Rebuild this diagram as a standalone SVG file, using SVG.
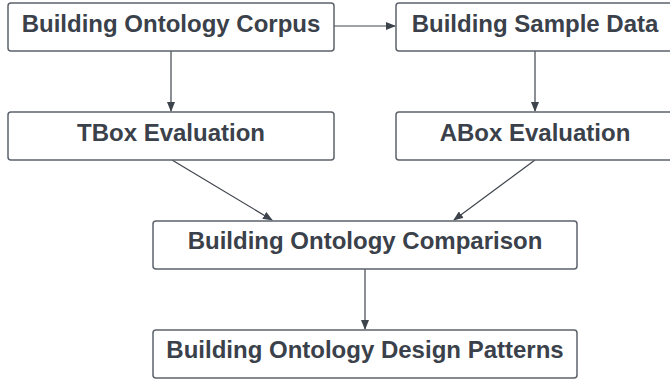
<svg xmlns="http://www.w3.org/2000/svg" width="670" height="380" viewBox="0 0 670 380">
<defs>
<marker id="ah" markerWidth="10" markerHeight="8" refX="9" refY="4" orient="auto" markerUnits="userSpaceOnUse">
<path d="M0,0 L10,4 L0,8 Z" fill="#3e444c"/>
</marker>
<style>
.box{fill:#ffffff;stroke:#5c626b;stroke-width:1.5}
.lbl{font-family:"Liberation Sans",Arial,sans-serif;font-weight:bold;font-size:24px;fill:#3a414a;text-anchor:middle}
.edge{fill:none;stroke:#3e444c;stroke-width:1.2}
</style>
</defs>
<rect width="670" height="380" fill="#ffffff"/>
<g id="connectors">
<line class="edge" x1="334" y1="26" x2="395" y2="26" marker-end="url(#ah)"/>
<line class="edge" x1="171" y1="51" x2="171" y2="111" marker-end="url(#ah)"/>
<line class="edge" x1="535" y1="51" x2="535" y2="111" marker-end="url(#ah)"/>
<line class="edge" x1="172" y1="160" x2="272" y2="220" marker-end="url(#ah)"/>
<line class="edge" x1="535" y1="160" x2="454" y2="220" marker-end="url(#ah)"/>
<line class="edge" x1="365" y1="269" x2="365" y2="329" marker-end="url(#ah)"/>
</g>
<g id="corpus">
<rect class="box" x="8" y="3" width="326" height="48" rx="3"/>
<text class="lbl" x="171" y="32">Building Ontology Corpus</text>
</g>
<g id="sample">
<rect class="box" x="396" y="3" width="278" height="48" rx="3"/>
<text class="lbl" x="535" y="32">Building Sample Data</text>
</g>
<g id="tbox">
<rect class="box" x="8" y="112" width="326" height="48" rx="3"/>
<text class="lbl" x="171" y="141">TBox Evaluation</text>
</g>
<g id="abox">
<rect class="box" x="396" y="112" width="278" height="48" rx="3"/>
<text class="lbl" x="535" y="141">ABox Evaluation</text>
</g>
<g id="comparison">
<rect class="box" x="153" y="221" width="424" height="48" rx="3"/>
<text class="lbl" x="365" y="249">Building Ontology Comparison</text>
</g>
<g id="patterns">
<rect class="box" x="153" y="330" width="424" height="48" rx="3"/>
<text class="lbl" x="365" y="358">Building Ontology Design Patterns</text>
</g>
</svg>
